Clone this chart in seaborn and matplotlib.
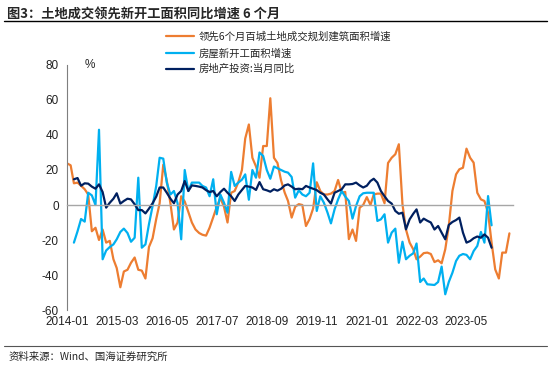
import matplotlib
matplotlib.use('Agg')
import matplotlib.pyplot as plt
import matplotlib.dates as mdates
import seaborn as sns
import pandas as pd

# 领先6个月百城土地成交规划建筑面积增速 (%), 月度, 2014-01 起
land = [23.8, 22.7, 12.4, 12.8, 11, 9, 6, -15, -13, -20,
        -14, -21.5, -20.5, -31, -36, -47, -38, -37, -33, -30,
        -37, -37.5, -42, -24, -19, -8, 1, 23, 14, 1,
        -14, -10, 5, 2, -4, -10, -14, -16, -17, -17.5,
        -13, -7, -1, 4, -1, -10, 7, 8, 13, 20,
        38, 46, 27, 22, 15.6, 33.7, 33.7, 61, 27, 24,
        14, 7, 2.3, -7.2, -1, 0.5, 0, -12, -8, -2,
        13, 8, 6, 6, 6.5, 8, 14.3, 7, 7.5, -19.5,
        -14, -20.5, -1.5, 0, 4.5, 0, 6, 6.5, 6.5, 1,
        24, 27, 29, 34.7, 0.4, -14, -21.5, -25.3, -31, -29.5,
        -27.5, -27.2, -28, -32.6, -31.6, -33.3, -25.3, -12, 8, 17.5,
        20.4, 21.3, 32.2, 27, 24.2, 7, 3.2, 2.3, -4.4, -21.5,
        -36.8, -42, -27.2, -27.2, -16.2]

# 房屋新开工面积增速 (%), 2014-03 起
starts = [-21.5, -15, -8, -9.5, 7, 5.5, 0, 43, -31, -26,
          -24, -22.5, -19.6, -15.4, -13.5, -16, -21, -18.7, 15.6, -24.4,
          -22.5, -11, -0.6, 10.9, 27, 26.5, 12.8, 6, 8, 1,
          -19.6, 20, 8, 12.8, 12.8, 12.8, 10.9, 10, 5, 14.7,
          -5.3, 6, 1.3, -4.4, 18.9, 10.9, 12.8, 14.5, 17.5, 3,
          20, 15.6, 30, 28, 20, 15, 22, 21, 20, 19,
          18.5, 16, 4.2, 8.4, 6, 5, 7, 23.8, -3.4, 5,
          1.3, -4.4, -10.5, -2.5, 3.2, 8, 4.8, 2.3, -7.8, -0.6,
          5, 6.7, 7, 7, 7, -9.1, -8.2, -5.3, -21.5, -15.8,
          -13.5, -33, -21, -31, -29, -27.6, -22, -44, -42, -45.3,
          -45.5, -45.7, -44, -35.2, -51, -44, -38.7, -32, -29, -28,
          -28.5, -31, -26.3, -23.4, -15.4, -21.5, 5.1, -11.6]

# 房地产投资:当月同比 (%), 2014-03 起
invest = [14.7, 15.4, 11, 12.4, 12.2, 10.5, 9.3, 11.8, 7.4, -1.5,
          1.3, 3.6, 6.7, 0.8, 2.3, 3.6, 3.2, 0.4, -2.9, -2.9,
          -4.8, -2.1, 1, 4.8, 10, 10, 7, 3.6, 1, 6,
          8, 13.7, 8, 11.2, 10.9, 10.5, 10, 8.5, 7.4, 8,
          5, 7.4, 9.3, 7, 5, 2.3, 6, 8.6, 10.9, 10.5,
          10, 8.6, 13.1, 9, 8.4, 7.6, 9, 8.2, 9.3, 11.2,
          11.8, 10.5, 9, 9.3, 9, 10.9, 10, 9.3, 8.5, 7,
          6, 3.2, 0.8, 7, 8, 9, 11.8, 11.8, 12, 12.8,
          11.2, 10, 11, 13.7, 15, 12.8, 8, 5, 2.3, 0.8,
          -3.4, -5, -4.4, -13.9, -8.2, -5, -2.5, -10, -7.8, -9,
          -10, -14, -12, -15.8, -19.6, -11.4, -9.7, -8.6, -7.2, -15.8,
          -21.5, -20.6, -19, -18, -18.7, -16.8, -18.7, -24.4]

names = ['领先6个月百城土地成交规划建筑面积增速', '房屋新开工面积增速', '房地产投资:当月同比']
colors = ['#ED7D31', '#00B0F0', '#002060']
tick_labels = ['2014-01', '2015-03', '2016-05', '2017-07', '2018-09',
               '2019-11', '2021-01', '2022-03', '2023-05']

land_dates = pd.date_range('2014-01-01', periods=len(land), freq='MS')
starts_dates = pd.date_range('2014-03-01', periods=len(starts), freq='MS')
invest_dates = pd.date_range('2014-03-01', periods=len(invest), freq='MS')

sns.set_theme(style='white')
plt.rcParams['font.family'] = ['Noto Sans CJK SC', 'DejaVu Sans']
plt.rcParams['axes.unicode_minus'] = False

fig = plt.figure(figsize=(5.5, 3.67), dpi=100)
ax = fig.add_axes([0.1218, 0.1553, 0.811, 0.6676])

sns.lineplot(x=land_dates, y=land, ax=ax, color=colors[0], lw=1.6, label=names[0])
sns.lineplot(x=starts_dates, y=starts, ax=ax, color=colors[1], lw=1.6, label=names[1])
sns.lineplot(x=invest_dates, y=invest, ax=ax, color=colors[2], lw=1.6, label=names[2])

ax.set_xlim(pd.Timestamp('2014-01-01'), pd.Timestamp('2024-06-01'))
ax.set_ylim(-60, 80)
ax.set_yticks(range(-60, 81, 20))
ax.set_xticks(pd.to_datetime(tick_labels))
ax.xaxis.set_major_formatter(mdates.DateFormatter('%Y-%m'))
ax.set_xlabel('')
ax.set_ylabel('')

for s in ['top', 'right']:
    ax.spines[s].set_visible(False)
ax.spines['left'].set_color('#7f7f7f')
ax.spines['left'].set_linewidth(0.8)
ax.spines['bottom'].set_position(('data', 0))
ax.spines['bottom'].set_color('#a6a6a6')
ax.spines['bottom'].set_linewidth(1.0)

# x labels sit under the plot although the axis line is at 0
ax.tick_params(axis='x', direction='in', length=3, color='#7f7f7f', pad=80,
               labelsize=8.5, labelcolor='#222222')
ax.tick_params(axis='y', direction='in', length=3, color='#7f7f7f', pad=6,
               labelsize=8.5, labelcolor='#222222')
for lab in ax.get_xticklabels() + ax.get_yticklabels():
    lab.set_fontfamily(['Liberation Sans', 'DejaVu Sans'])

ax.text(0.04, 1.0, '%', transform=ax.transAxes, fontsize=8.5, va='center',
        ha='left', family=['Liberation Sans', 'DejaVu Sans'])

ax.legend_.remove()
handles, labels = ax.get_legend_handles_labels()
fig.legend(handles, labels, loc='upper left', bbox_to_anchor=(0.295, 0.925),
           frameon=False, fontsize=7.5, handlelength=2.6, handletextpad=0.5,
           labelspacing=0.55, borderaxespad=0)

# title and source, with rules
fig.text(0.012, 0.962, '图3：土地成交领先新开工面积同比增速 6 个月', fontsize=9.5,
         fontweight='bold', va='center', ha='left')
fig.add_artist(plt.Line2D([0.008, 0.995], [0.943, 0.943], color='black', lw=1.0))
fig.add_artist(plt.Line2D([0.008, 0.995], [0.057, 0.057], color='#555555', lw=0.8))
fig.text(0.015, 0.027, '资料来源：Wind、国海证券研究所', fontsize=7.5, va='center', ha='left')

fig.savefig('out.png', dpi=100)
